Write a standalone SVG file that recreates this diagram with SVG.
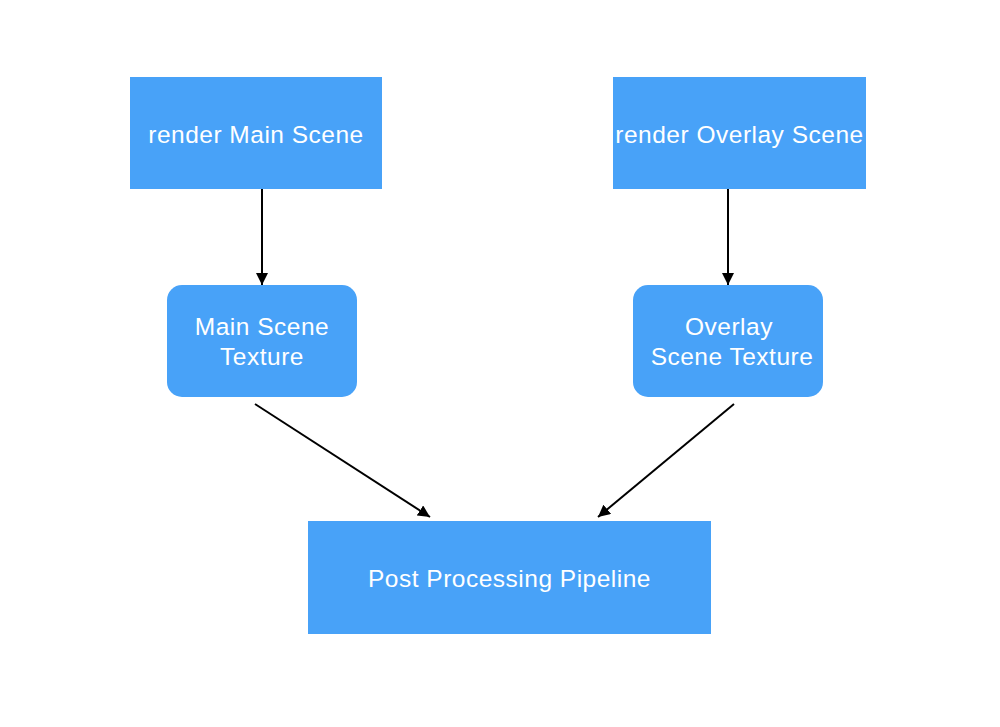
<svg xmlns="http://www.w3.org/2000/svg" width="1000" height="727" viewBox="0 0 1000 727">
<defs>
<style>
.box{fill:#48A2F8;}
.lbl{font-family:"Liberation Sans",Arial,sans-serif;font-size:24.5px;fill:#ffffff;text-anchor:middle;letter-spacing:0.5px;}
.edge{stroke:#000000;stroke-width:2;fill:none;}
</style>
<marker id="arr" viewBox="0 0 10 10" refX="10" refY="5" markerWidth="6" markerHeight="6" markerUnits="strokeWidth" orient="auto">
<path d="M0,0 L10,5 L0,10 z" fill="#000000"/>
</marker>
</defs>
<rect width="1000" height="727" fill="#ffffff"/>
<g id="connectors">
<line class="edge" x1="262" y1="189" x2="262" y2="285" marker-end="url(#arr)"/>
<line class="edge" x1="728" y1="189" x2="728" y2="285" marker-end="url(#arr)"/>
<line class="edge" x1="255" y1="404" x2="430" y2="517" marker-end="url(#arr)"/>
<line class="edge" x1="734" y1="404" x2="598" y2="517" marker-end="url(#arr)"/>
</g>
<g id="render-main">
<rect class="box" x="130" y="77" width="252" height="112"/>
<text class="lbl" x="256" y="143">render Main Scene</text>
</g>
<g id="render-overlay">
<rect class="box" x="613" y="77" width="253" height="112"/>
<text class="lbl" x="739.5" y="143">render Overlay Scene</text>
</g>
<g id="main-texture">
<rect class="box" x="167" y="285" width="190" height="112" rx="15" ry="15"/>
<text class="lbl" x="262" y="335">Main Scene</text>
<text class="lbl" x="262" y="365">Texture</text>
</g>
<g id="overlay-texture">
<rect class="box" x="633" y="285" width="190" height="112" rx="15" ry="15"/>
<text class="lbl" x="729" y="335">Overlay</text>
<text class="lbl" x="732" y="365">Scene Texture</text>
</g>
<g id="post-processing">
<rect class="box" x="308" y="521" width="403" height="113"/>
<text class="lbl" x="509.5" y="587">Post Processing Pipeline</text>
</g>
</svg>
